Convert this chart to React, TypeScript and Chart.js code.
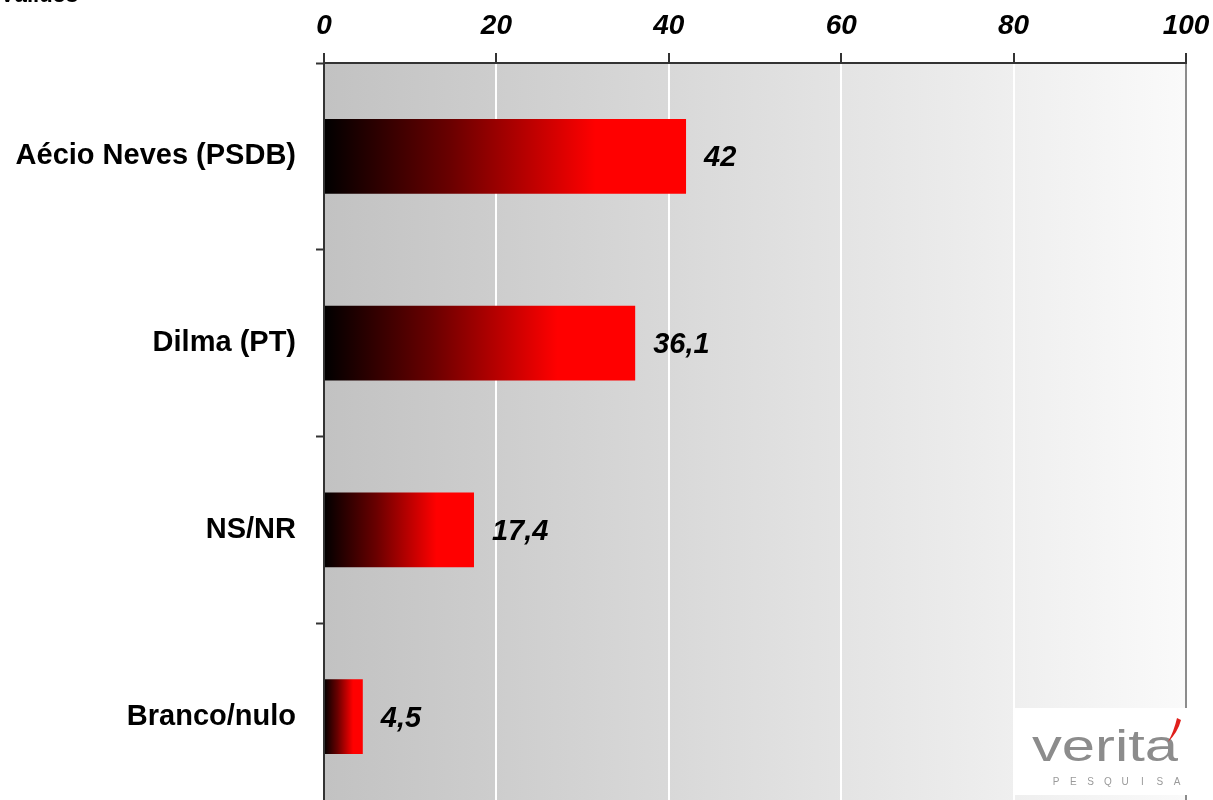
import React, { useEffect, useRef } from "react";
import { Chart, registerables } from "chart.js";

Chart.register(...registerables);

const categories = ["Aécio Neves (PSDB)", "Dilma (PT)", "NS/NR", "Branco/nulo"];
const values = [42, 36.1, 17.4, 4.5];
const valueLabels = ["42", "36,1", "17,4", "4,5"];
const xTicks = [0, 20, 40, 60, 80, 100];
const titleText = "Válidos";
const logoText = "verita";
const logoSub = "PESQUISA";

const OFFSET = 30;
const W = 1213;
const H = 860;
const FONT = "'Liberation Sans', Arial, sans-serif";

const backgroundPlugin = {
  id: "bgGradient",
  beforeDraw(chart: any) {
    const { ctx, chartArea } = chart;
    if (!chartArea) return;
    ctx.save();
    const g = ctx.createLinearGradient(chartArea.left, 0, chartArea.right, 0);
    g.addColorStop(0, "#c2c2c2");
    g.addColorStop(1, "#fafafa");
    ctx.fillStyle = g;
    ctx.fillRect(chartArea.left, chartArea.top, chartArea.right - chartArea.left, chartArea.bottom - chartArea.top);
    ctx.restore();
  },
};

const labelsPlugin = {
  id: "valueLabels",
  afterDatasetsDraw(chart: any) {
    const { ctx } = chart;
    const meta = chart.getDatasetMeta(0);
    ctx.save();
    ctx.font = `italic bold 29px ${FONT}`;
    ctx.fillStyle = "#000";
    ctx.textAlign = "left";
    ctx.textBaseline = "middle";
    meta.data.forEach((bar: any, i: number) => {
      ctx.fillText(valueLabels[i], bar.x + 18, bar.y + 2);
    });
    ctx.restore();
  },
  afterDraw(chart: any) {
    const { ctx } = chart;
    ctx.save();
    // cut-off title at top-left
    ctx.font = `bold 22px ${FONT}`;
    ctx.fillStyle = "#000";
    ctx.textBaseline = "alphabetic";
    ctx.fillText(titleText, 0, 2 + OFFSET);
    // logo box
    ctx.fillStyle = "#ffffff";
    ctx.fillRect(1013, 708 + OFFSET, 182, 87);
    // logo word (wide letters)
    ctx.save();
    ctx.fillStyle = "#8c8c8c";
    ctx.font = `normal 44px ${FONT}`;
    ctx.textAlign = "left";
    const tw = ctx.measureText(logoText).width;
    const sx = 146 / tw;
    ctx.translate(1032, 761 + OFFSET);
    ctx.scale(sx, 1);
    ctx.fillText(logoText, 0, 0);
    ctx.restore();
    // red accent
    ctx.fillStyle = "#e0201c";
    ctx.beginPath();
    ctx.moveTo(1177, 718 + OFFSET);
    ctx.lineTo(1181, 720 + OFFSET);
    ctx.quadraticCurveTo(1178, 732 + OFFSET, 1168, 742 + OFFSET);
    ctx.quadraticCurveTo(1174, 731 + OFFSET, 1177, 718 + OFFSET);
    ctx.closePath();
    ctx.fill();
    // sub text
    ctx.fillStyle = "#9a9a9a";
    ctx.font = `normal 10px ${FONT}`;
    ctx.textAlign = "center";
    const startX = 1056;
    const step = 17.3;
    for (let i = 0; i < logoSub.length; i++) {
      ctx.fillText(logoSub[i], startX + i * step, 785 + OFFSET);
    }
    ctx.restore();
  },
};

export default function App() {
  const ref = useRef<HTMLCanvasElement | null>(null);

  useEffect(() => {
    if (!ref.current) return;
    const chart = new Chart(ref.current, {
      type: "bar",
      data: {
        labels: categories,
        datasets: [
          {
            data: values,
            barPercentage: 0.4,
            categoryPercentage: 1,
            borderWidth: 0,
            backgroundColor: (c: any) => {
              const chart = c.chart;
              const x = chart.scales && chart.scales.x;
              if (!x || c.raw === undefined) return "#ff0000";
              const x0 = x.getPixelForValue(0);
              const x1 = x.getPixelForValue(c.raw);
              if (!isFinite(x0) || !isFinite(x1) || x1 <= x0) return "#ff0000";
              const g = chart.ctx.createLinearGradient(x0, 0, x1, 0);
              g.addColorStop(0, "#000000");
              g.addColorStop(0.35, "#6a0000");
              g.addColorStop(0.75, "#ff0000");
              g.addColorStop(1, "#ff0000");
              return g;
            },
          },
        ],
      },
      options: {
        indexAxis: "y",
        responsive: false,
        animation: false,
        layout: { padding: { left: 0, right: 27, top: 0, bottom: 20 } },
        plugins: { legend: { display: false }, tooltip: { enabled: false } },
        scales: {
          x: {
            position: "top",
            min: 0,
            max: 100,
            afterBuildTicks: (s: any) => {
              s.ticks = xTicks.map((v) => ({ value: v }));
            },
            afterFit: (s: any) => {
              s.height = 93;
              s.paddingLeft = 0;
              s.paddingRight = 0;
            },
            ticks: {
              font: { family: FONT, size: 28, weight: "bold", style: "italic" },
              color: "#000",
              padding: 10,
              maxRotation: 0,
              autoSkip: false,
            },
            grid: {
              color: (c: any) => {
                const v = c.tick ? c.tick.value : -1;
                if (v === 0) return "rgba(0,0,0,0)";
                if (v === 100) return "#8c8c8c";
                return "#ffffff";
              },
              lineWidth: 2,
              tickLength: 10,
              tickColor: "#333",
              tickWidth: 2,
            },
            border: { color: "#333", width: 2 },
          },
          y: {
            afterFit: (s: any) => {
              s.width = 324;
              s.paddingTop = 0;
              s.paddingBottom = 0;
            },
            ticks: {
              font: { family: FONT, size: 29, weight: "bold" },
              color: "#000",
              padding: 20,
            },
            grid: {
              drawOnChartArea: false,
              offset: true,
              tickLength: 8,
              tickColor: "#333",
              tickWidth: 2,
            },
            border: { color: "#333", width: 2 },
          },
        },
      },
      plugins: [backgroundPlugin, labelsPlugin],
    } as any);
    return () => chart.destroy();
  }, []);

  return (
    <div
      style={{
        position: "fixed",
        top: 0,
        left: 0,
        width: W,
        height: 800,
        overflow: "hidden",
        background: "#fff",
      }}
    >
      <canvas
        ref={ref}
        width={W}
        height={H}
        style={{ position: "absolute", top: -OFFSET, left: 0, width: W, height: H }}
      />
    </div>
  );
}
